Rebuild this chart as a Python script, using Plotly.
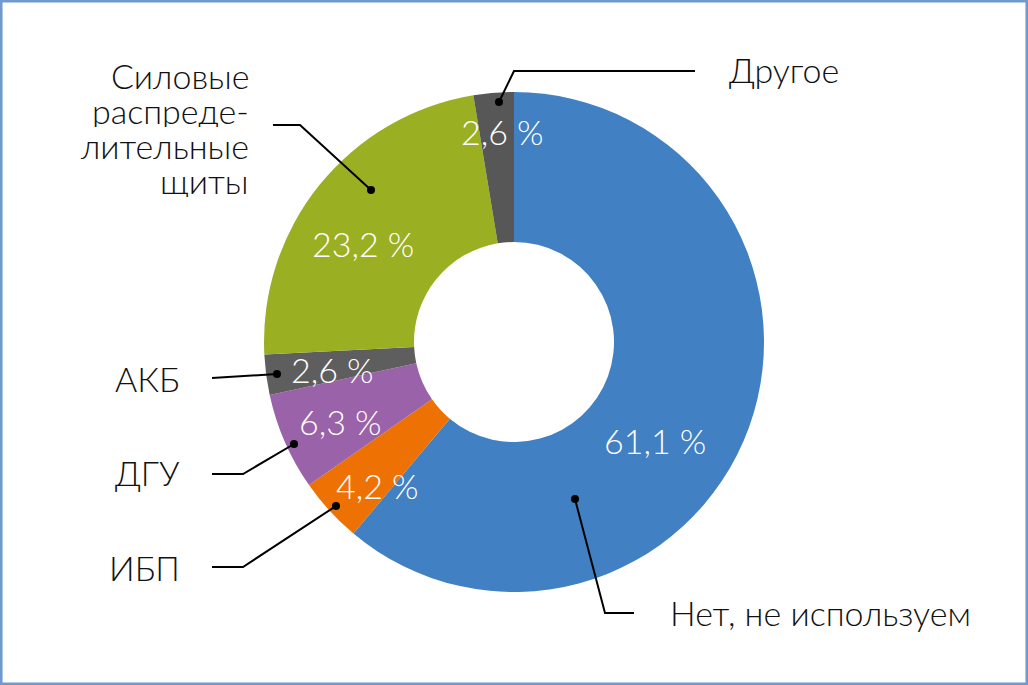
import plotly.graph_objects as go

W, H = 1028, 685

labels = ["Нет, не используем", "ИБП", "ДГУ", "АКБ", "Силовые распределительные щиты", "Другое"]
values = [61.1, 4.2, 6.3, 2.6, 23.2, 2.6]
colors = ["#4180C2", "#EE7203", "#9A62A8", "#5E5E5E", "#9BAF22", "#575757"]
pct_text = ["61,1 %", "4,2 %", "6,3 %", "2,6 %", "23,2 %", "2,6 %"]
label_lines = [["Нет, не используем"], ["ИБП"], ["ДГУ"], ["АКБ"],
               ["Силовые", "распреде-", "лительные", "щиты"], ["Другое"]]

# layout helpers (pixel positions for labels / leader lines)
pct_pos = [(655, 440), (377, 485), (340, 421), (332, 369), (363, 244), (502, 131)]
label_pos = [(668, 612, "left"), (182, 567, "right"), (182, 472, "right"),
             (182, 378, "right"), (251, 75, "right"), (727, 70, "left")]
LINE_GAP = 35
leaders = [
    [(575, 499), (605, 613), (634, 613)],
    [(336, 506), (243, 567), (212, 567)],
    [(294, 444), (243, 474), (212, 474)],
    [(277, 374), (212, 378)],
    [(371, 190), (300, 125), (273, 125)],
    [(499, 102), (514, 71), (695, 71)],
]

cx, cy, R = 514, 342, 250


def px(x, y):
    return x / W, 1 - y / H


FONT = "Lato"

fig = go.Figure()
fig.add_trace(go.Pie(
    labels=labels, values=values, sort=False, direction="clockwise", rotation=0,
    hole=0.4, marker=dict(colors=colors, line=dict(width=0)),
    textinfo="none", hoverinfo="label+percent", showlegend=False,
    domain=dict(x=[(cx - R) / W, (cx + R) / W], y=[1 - (cy + R) / H, 1 - (cy - R) / H]),
))

annotations = []
for t, (x, y) in zip(pct_text, pct_pos):
    ax, ay = px(x, y)
    annotations.append(dict(x=ax, y=ay, xref="paper", yref="paper", text=t, showarrow=False,
                            font=dict(family=FONT, size=34, color="white", weight=300),
                            xanchor="center", yanchor="middle"))
for lines, (x, y, al) in zip(label_lines, label_pos):
    multi = len(lines) > 1
    for i, t in enumerate(lines):
        ax, ay = px(x, y + i * LINE_GAP)
        a = dict(x=ax, y=ay, xref="paper", yref="paper", text=t, showarrow=False,
                 font=dict(family=FONT, size=34, color="#111111", weight=300),
                 xanchor=al, yanchor="middle", align=al)
        if multi:
            a.update(height=LINE_GAP - 1, valign="middle")
        annotations.append(a)

shapes = []
for pts in leaders:
    path = "M " + " L ".join(f"{px(x, y)[0]},{px(x, y)[1]}" for x, y in pts)
    shapes.append(dict(type="path", path=path, xref="paper", yref="paper",
                       line=dict(color="black", width=2)))
    dx, dy = pts[0]
    x0, y0 = px(dx - 4, dy + 4)
    x1, y1 = px(dx + 4, dy - 4)
    shapes.append(dict(type="circle", x0=x0, y0=y0, x1=x1, y1=y1, xref="paper", yref="paper",
                       fillcolor="black", line=dict(color="black", width=0)))
# frame
shapes.append(dict(type="rect", x0=0.001, y0=0.0015, x1=0.999, y1=0.9985, xref="paper", yref="paper",
                   line=dict(color="#6F9AD0", width=3), layer="above"))

fig.update_layout(width=W, height=H, margin=dict(l=0, r=0, t=0, b=0),
                  paper_bgcolor="white", plot_bgcolor="white",
                  annotations=annotations, shapes=shapes)
fig.write_html("out.html", config={"displayModeBar": False},
               post_script="document.body.style.margin='0px';document.body.style.overflow='hidden';")
